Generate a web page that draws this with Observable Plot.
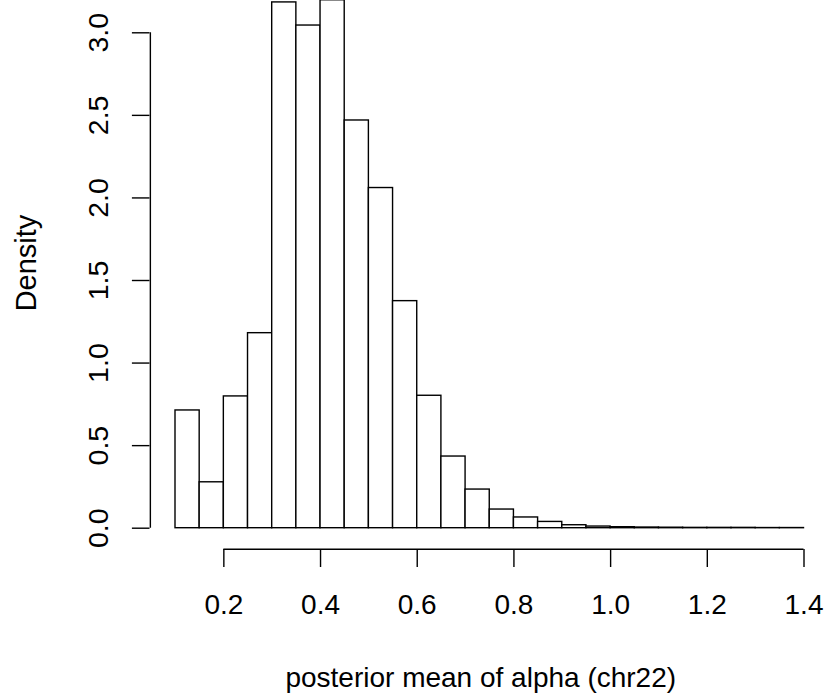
<!DOCTYPE html>
<html>
<head>
<meta charset="utf-8">
<script src="https://cdn.jsdelivr.net/npm/d3@7"></script>
<script src="https://cdn.jsdelivr.net/npm/@observablehq/plot@0.6"></script>
<style>
  html, body { margin: 0; padding: 0; background: #fff; }
  #chart svg { display: block; }
</style>
</head>
<body>
<div id="chart"></div>
<script>
// Histogram bin edges and density values
const binEdges = [0.10, 0.15, 0.20, 0.25, 0.30, 0.35, 0.40, 0.45, 0.50, 0.55, 0.60, 0.65, 0.70,
                  0.75, 0.80, 0.85, 0.90, 0.95, 1.00, 1.05, 1.10, 1.15, 1.20, 1.25, 1.30, 1.35, 1.40];
const density = [0.713, 0.278, 0.798, 1.181, 3.184, 3.044, 3.197, 2.469, 2.060, 1.375, 0.802, 0.434, 0.234,
                 0.113, 0.065, 0.038, 0.018, 0.010, 0.006, 0.004, 0.003, 0.002, 0.002, 0.002, 0.001, 0.001];
const xTicks = [0.2, 0.4, 0.6, 0.8, 1.0, 1.2, 1.4];
const yTicks = [0.0, 0.5, 1.0, 1.5, 2.0, 2.5, 3.0];
const xLabel = "posterior mean of alpha (chr22)";
const yLabel = "Density";

const bins = density.map((d, i) => ({x1: binEdges[i], x2: binEdges[i + 1], y: d}));

const W = 827, H = 693;
const frameLeft = 149.5, frameBottom = 549;
// R-style axis positions: 4% outside the data range
const xLo = binEdges[0], xHi = binEdges[binEdges.length - 1];
const xAxisAt = -0.04 * d3.max(density);
const yAxisAt = xLo - 0.04 * (xHi - xLo);

const font = "'Liberation Sans', Arial, Helvetica, sans-serif";

const chart = Plot.plot({
  width: W,
  height: H,
  marginLeft: frameLeft,
  marginRight: 0,
  marginTop: 0,
  marginBottom: H - frameBottom,
  style: {fontFamily: font, background: "#fff", color: "#000", overflow: "hidden"},
  x: {domain: [0.1, 1.4], range: [175, 803.5]},
  y: {domain: [0, 3], range: [527.7, 32.3]},
  marks: [
    Plot.rectY(bins, {x1: "x1", x2: "x2", y1: 0, y2: "y", fill: "white", stroke: "black", strokeWidth: 1.4}),
    Plot.ruleY([xAxisAt], {x1: xTicks[0], x2: xTicks[xTicks.length - 1], stroke: "black", strokeWidth: 1.4}),
    Plot.ruleX([yAxisAt], {y1: yTicks[0], y2: yTicks[yTicks.length - 1], stroke: "black", strokeWidth: 1.4}),
    Plot.axisX(xTicks, {anchor: "bottom", tickSize: 18, tickPadding: 26.5, fontSize: 28,
      tickFormat: d3.format(".1f"), label: null, strokeWidth: 1.4}),
    Plot.axisY(yTicks, {anchor: "left", tickSize: 17.6, tickPadding: 24.8, tickRotate: -90, fontSize: 28.5,
      tickFormat: d3.format(".1f"), label: null, strokeWidth: 1.4}),
    Plot.text([xLabel], {text: d => d, frameAnchor: "bottom", lineAnchor: "bottom", textAnchor: "middle",
      fontSize: 28, dx: -8, dy: 137}),
    Plot.text([yLabel], {text: d => d, frameAnchor: "left", rotate: -90, lineAnchor: "bottom", textAnchor: "middle",
      fontSize: 29, dx: 35 - frameLeft, dy: 262.5 - frameBottom / 2})
  ]
});
document.getElementById("chart").appendChild(chart);
</script>
</body>
</html>
